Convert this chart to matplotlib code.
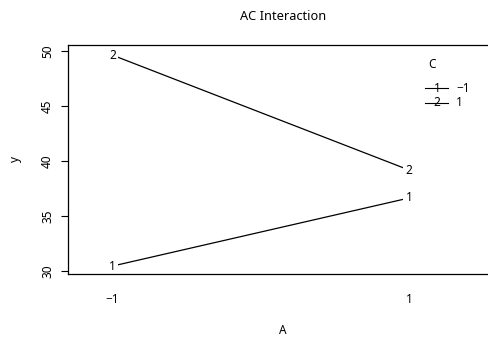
import matplotlib
matplotlib.use("Agg")
import matplotlib.pyplot as plt
from matplotlib.lines import Line2D

plt.rcParams['font.family'] = ['Noto Sans', 'DejaVu Sans']

# interaction means: y by A for each level of C
a_levels = [-1, 1]
a_labels = ['\u22121', '1']
c_levels = ['\u22121', '1']
c_marks = ['1', '2']
y_c1 = [30.45, 36.63]
y_c2 = [49.6, 39.17]

W, H = 489, 337
fig = plt.figure(figsize=(W / 100, H / 100), dpi=100)
ax = fig.add_axes([68 / W, 1 - 274 / H, 430 / W, 229 / H])

fs = 8.5
for ys, mk in zip([y_c1, y_c2], c_marks):
    ax.plot(a_levels, ys, color='black', lw=0.9, zorder=1)
    for x, y in zip(a_levels, ys):
        ax.text(x, y, mk, ha='center', va='center', fontsize=fs, zorder=2,
                bbox=dict(facecolor='white', edgecolor='none', pad=1.6))

ax.set_xlim(-1.30, 1.60)
ax.set_ylim(29.73, 50.52)
ax.set_xticks(a_levels)
ax.set_xticklabels(a_labels)
ax.set_yticks([30, 35, 40, 45, 50])
for lab in ax.get_yticklabels():
    lab.set_rotation(90)
    lab.set_va('center')
ax.tick_params(axis='x', length=0, pad=14, labelsize=fs)
ax.tick_params(axis='y', length=5, pad=5, width=0.8, labelsize=fs)
for s in ax.spines.values():
    s.set_linewidth(0.9)
    s.set_zorder(3)

ax.set_xlabel('A', fontsize=fs, labelpad=13)
ax.set_ylabel('y', fontsize=fs, labelpad=14)
ax.set_title('AC Interaction', fontsize=9.2, pad=18)

# legend (drawn like R's interaction.plot legend)
fig.text(432 / W, 1 - 64 / H, 'C', ha='center', va='center', fontsize=fs)
for i, (lv, mk) in enumerate(zip(c_levels, c_marks)):
    yy = 1 - (88 + 15 * i) / H
    fig.add_artist(Line2D([425 / W, 448 / W], [yy, yy], color='black', lw=0.8))
    fig.text(437 / W, yy, mk, ha='center', va='center', fontsize=fs)
    fig.text(456 / W, yy, lv, ha='left', va='center', fontsize=fs)

fig.savefig('out.png', dpi=100)
